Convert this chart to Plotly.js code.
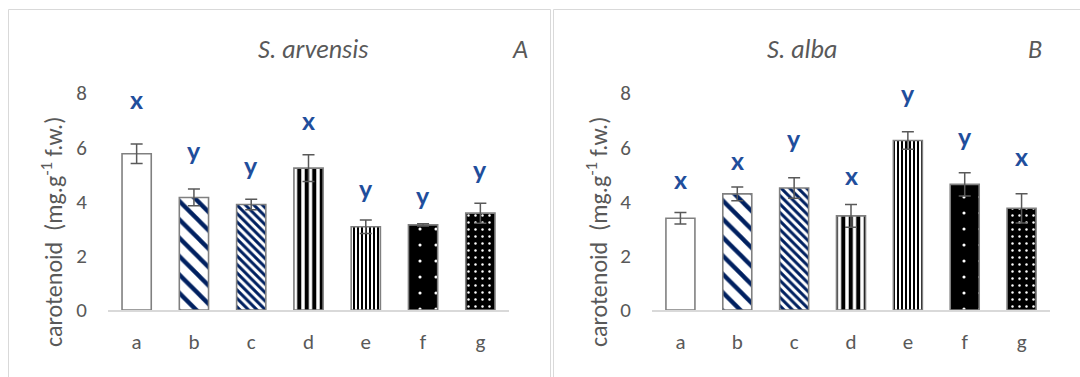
<!DOCTYPE html>
<html>
<head>
<meta charset="utf-8">
<script src="https://cdn.plot.ly/plotly-3.0.1.min.js"></script>
<style>html,body{margin:0;padding:0;background:#fff;}#chart{width:1080px;height:377px;}</style>
</head>
<body>
<div id="chart"></div>
<script>
// ---- data ----
var categories = ['a', 'b', 'c', 'd', 'e', 'f', 'g'];
var arvensisMean = [5.76, 4.15, 3.89, 5.23, 3.07, 3.14, 3.57];
var arvensisErr = [0.36, 0.31, 0.19, 0.49, 0.25, 0.04, 0.37];
var albaMean = [3.38, 4.28, 4.50, 3.47, 6.25, 4.63, 3.75];
var albaErr = [0.21, 0.25, 0.38, 0.42, 0.32, 0.43, 0.54];
var arvensisLetters = ['x', 'y', 'y', 'x', 'y', 'y', 'y'];
var arvensisLetterY = [7.79, 5.90, 5.35, 7.01, 4.50, 4.24, 5.20];
var albaLetters = ['x', 'x', 'y', 'x', 'y', 'y', 'x'];
var albaLetterY = [4.82, 5.53, 6.35, 4.97, 8.00, 6.41, 5.67];
var yTicks = [0, 2, 4, 6, 8];

// ---- styles ----
var patShape = ['', '\\', '\\', '|', '|', '.', '.'];
var patFg = ['#ffffff', '#002060', '#002060', '#000000', '#000000', '#ffffff', '#ffffff'];
var patBg = ['#ffffff', '#ffffff', '#ffffff', '#ffffff', '#ffffff', '#000000', '#000000'];
var patSize = [8, 13, 6, 7.5, 4, 16, 7];
var patSolid = [0.2, 0.33, 0.5, 0.55, 0.5, 0.03, 0.1];
var FONT = 'Carlito, Lato, "Open Sans", sans-serif';
var GREY = '#595959';

var traces = [];
function addBars(y, err, xa, ya) {
  for (var i = 0; i < categories.length; i++) {
    var marker = {color: patShape[i] ? patFg[i] : patBg[i], line: {color: '#808080', width: 1.6}};
    if (patShape[i]) {
      marker.pattern = {shape: patShape[i], fgcolor: patFg[i], bgcolor: patBg[i], size: patSize[i], solidity: patSolid[i], fillmode: 'replace'};
    }
    traces.push({
      type: 'bar', x: [categories[i]], y: [y[i]], xaxis: xa, yaxis: ya, width: 0.51,
      marker: marker,
      error_y: {type: 'data', array: [err[i]], visible: true, color: GREY, thickness: 1.5, width: 6},
      hoverinfo: 'skip', showlegend: false
    });
  }
}
addBars(arvensisMean, arvensisErr, 'x', 'y');
addBars(albaMean, albaErr, 'x2', 'y2');

function xaxisDef(domain, anchor) {
  return {domain: domain, anchor: anchor, type: 'category', categoryarray: categories, showgrid: false, zeroline: false,
    showline: true, linecolor: '#d9d9d9', linewidth: 1.5, ticks: '', ticklabelstandoff: 12,
    tickfont: {family: FONT, size: 21, color: GREY}, fixedrange: true};
}
function yaxisDef(domain, anchor) {
  return {domain: domain, anchor: anchor, range: [0, 8], tickvals: yTicks, showgrid: false, zeroline: false,
    showline: false, ticks: '', ticklabelstandoff: 20,
    tickfont: {family: FONT, size: 21, color: GREY}, fixedrange: true};
}

var annotations = [];
function addLetters(letters, ys, xref, yref) {
  for (var i = 0; i < letters.length; i++) {
    annotations.push({xref: xref, yref: yref, x: categories[i], y: ys[i], text: '<b>' + letters[i] + '</b>',
      showarrow: false, xanchor: 'center', yanchor: 'middle',
      font: {family: 'Lato, sans-serif', size: 25, weight: 900, color: '#1f4e9c'}});
  }
}
addLetters(arvensisLetters, arvensisLetterY, 'x', 'y');
addLetters(albaLetters, albaLetterY, 'x2', 'y2');

// pixel -> paper (plot area spans y 93..310, x 0..1080)
var T = 93, B = 310;
function px(x) { return x / 1080; }
function py(y) { return (B - y) / (B - T); }
function paperText(x, y, text, font, angle) {
  var a = {xref: 'paper', yref: 'paper', x: px(x), y: py(y), text: text, showarrow: false,
    xanchor: 'center', yanchor: 'middle', font: font};
  if (angle) a.textangle = angle;
  annotations.push(a);
}
var titleFont = {family: FONT, size: 26, color: GREY};
paperText(313, 49, '<i>S. arvensis</i>', titleFont);
paperText(520, 49, '<i>A</i>', titleFont);
paperText(802, 49, '<i>S. alba</i>', titleFont);
paperText(1035, 49, '<i>B</i>', titleFont);
var yTitle = 'carotenoid  (mg.g<sup>-1</sup> f.w.)';
var yTitleFont = {family: FONT, size: 24, color: GREY};
paperText(52, 232, yTitle, yTitleFont, -90);
paperText(597, 232, yTitle, yTitleFont, -90);

var shapes = [
  {type: 'rect', xref: 'paper', yref: 'paper', x0: px(8.5), x1: px(550.5), y0: py(400), y1: py(9.5), line: {color: '#d9d9d9', width: 1}},
  {type: 'rect', xref: 'paper', yref: 'paper', x0: px(553.5), x1: px(1090), y0: py(400), y1: py(9.5), line: {color: '#d9d9d9', width: 1}}
];

var layout = {
  width: 1080, height: 377,
  margin: {l: 0, r: 0, t: T, b: 377 - B},
  paper_bgcolor: '#ffffff', plot_bgcolor: '#ffffff',
  barmode: 'overlay',
  showlegend: false,
  xaxis: xaxisDef([108 / 1080, 509 / 1080], 'y'),
  yaxis: yaxisDef([0, 1], 'x'),
  xaxis2: xaxisDef([652 / 1080, 1050 / 1080], 'y2'),
  yaxis2: yaxisDef([0, 1], 'x2'),
  annotations: annotations,
  shapes: shapes
};

Plotly.newPlot('chart', traces, layout, {displayModeBar: false, staticPlot: true});
</script>
</body>
</html>
